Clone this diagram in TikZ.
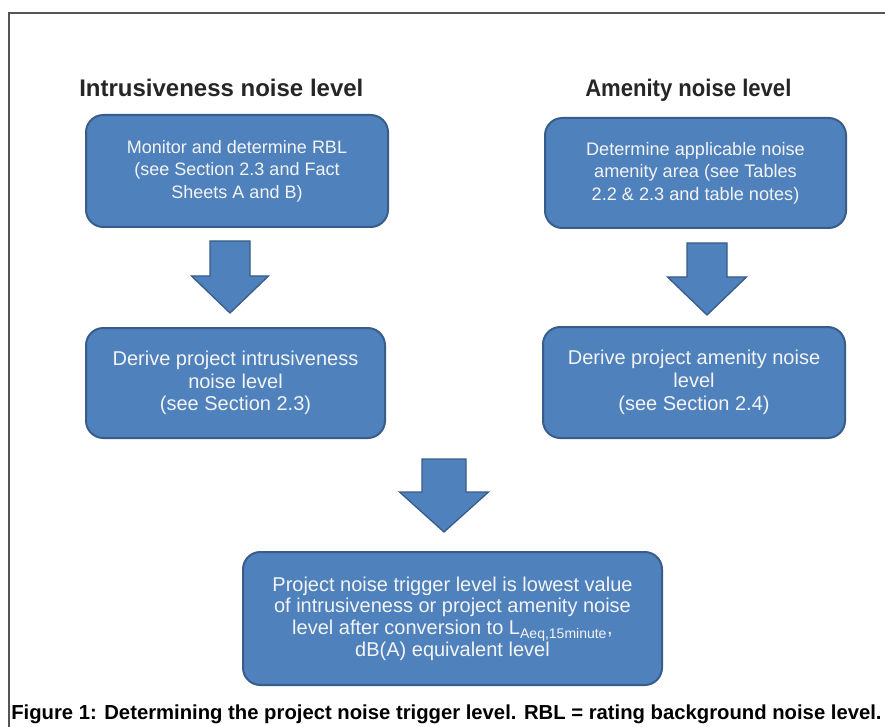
\documentclass[tikz,border=0pt]{standalone}
\usepackage{fontspec}
\setmainfont{Liberation Sans}
\definecolor{boxfill}{RGB}{79,129,189}
\definecolor{boxline}{RGB}{56,93,138}
\definecolor{boxtext}{RGB}{244,244,244}
\definecolor{framegray}{RGB}{85,85,85}
\newcommand\blockarr[6]{% cx top base tip shafthalf headhalf
  \draw[blockarrow] (#1-#5,#2) -- (#1+#5,#2) -- (#1+#5,#3) -- (#1+#6,#3) -- (#1,#4) -- (#1-#6,#3) -- (#1-#5,#3) -- cycle;}
\begin{document}
\begin{tikzpicture}[x=0.75pt,y=-0.75pt,
  flowbox/.style={draw=boxline, line width=1.5pt, fill=boxfill, rounded corners=13pt,
    text=boxtext, align=center, inner sep=0pt},
  heading/.style={font=\fontsize{18}{21}\selectfont\bfseries, text=black!85,
    anchor=base west, inner sep=0pt},
  blockarrow/.style={draw=boxline, line width=1pt, fill=boxfill, line join=miter}
]
\useasboundingbox (0,0) rectangle (885,727);
\fill[white] (0,0) rectangle (885,727);
\draw[framegray, line width=1.5pt] (885,13) -- (9,13) -- (9,727);

\node[heading] (h1) at (79,97) {Intrusiveness noise level};
\node[heading, xscale=0.92, transform shape] (h2) at (585,97) {Amenity noise level};

\node[flowbox, minimum width=226.5pt, minimum height=84pt,
  font=\fontsize{13.5}{16.9}\selectfont] (b1) at (237,171)
  {Monitor and determine RBL\\(see Section 2.3 and Fact\\Sheets A and B)};
\node[flowbox, minimum width=224.25pt, minimum height=82.5pt,
  font=\fontsize{15}{16.9}\selectfont] (b2) at (235.5,383)
  {Derive project intrusiveness\\noise level\\(see Section 2.3)};
\node[flowbox, minimum width=225.75pt, minimum height=82.5pt,
  font=\fontsize{13.6}{16.9}\selectfont] (b3) at (695.5,173)
  {Determine applicable noise\\amenity area (see Tables\\2.2 \& 2.3 and table notes)};
\node[flowbox, minimum width=226.5pt, minimum height=83.25pt,
  font=\fontsize{15}{17.2}\selectfont] (b4) at (694,382.5)
  {Derive project amenity noise\\level\\(see Section 2.4)};
\node[flowbox, minimum width=314.25pt, minimum height=99.75pt,
  font=\fontsize{15}{16.3}\selectfont] (b5) at (452.5,618.5)
  {Project noise trigger level is lowest value\\of intrusiveness or project amenity noise\\level after conversion to L\textsubscript{Aeq,15minute},\\dB(A) equivalent level};

\blockarr{230}{241}{276}{313}{20}{38.5}
\blockarr{707}{243}{277}{315}{20}{39.5}
\blockarr{444}{459}{492}{532}{22}{44.5}

\node[anchor=base west, inner sep=0pt, font=\fontsize{15.2}{18}\selectfont\bfseries]
  (cap) at (11,719) {Figure 1: Determining the project noise trigger level. RBL = rating background noise level.};
\end{tikzpicture}
\end{document}
